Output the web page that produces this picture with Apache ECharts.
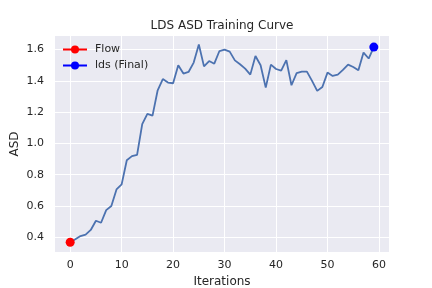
<!DOCTYPE html>
<html><head><meta charset="utf-8">
<script src="https://cdn.jsdelivr.net/npm/echarts@6/dist/echarts.min.js"></script>
<style>html,body{margin:0;padding:0;background:#fff}#c{width:432px;height:288px}</style>
</head><body><div id="c"></div>
<script>
var asd = [0.368,0.387,0.408,0.417,0.447,0.506,0.493,0.574,0.600,0.706,0.738,0.893,0.919,0.927,1.123,1.189,1.178,1.340,1.412,1.389,
1.385,1.500,1.447,1.457,1.517,1.633,1.493,1.527,1.510,1.591,1.600,1.587,1.531,1.506,1.478,1.440,1.559,1.500,1.357,1.504,
1.476,1.466,1.533,1.372,1.450,1.459,1.459,1.400,1.336,1.361,1.453,1.432,1.440,1.470,1.504,1.489,1.468,1.581,1.543,1.616];
var iterations = asd.map(function(_, i){ return i; });
var flowPoint = [0, 0.368];
var finalPoint = [59, 1.616];
var xTicks = [0,10,20,30,40,50,60];
var yTicks = [0.4,0.6,0.8,1.0,1.2,1.4,1.6];

var curve = iterations.map(function(x, i){ return [x, asd[i]]; });
var font = 'DejaVu Sans';
var chart = echarts.init(document.getElementById('c'), null, {renderer:'canvas'});
chart.setOption({
  animation:false,
  backgroundColor:'#ffffff',
  title:{text:'LDS ASD Training Curve', left:222, textAlign:'center', top:20, padding:0,
    textStyle:{fontFamily:font, fontSize:12, fontWeight:'normal', color:'#262626'}},
  legend:{data:['Flow','lds (Final)'], orient:'vertical', left:62, top:44, itemWidth:24, itemHeight:10, itemGap:5,
    padding:0,
    textStyle:{fontFamily:font, fontSize:11, color:'#262626', padding:[0,0,0,3]}},
  grid:{left:55, right:43, top:36, bottom:36, show:true, backgroundColor:'#EAEAF2', borderWidth:0,
    containLabel:false, outerBoundsMode:'none'},
  xAxis:{type:'value', min:-2.95, max:61.95,
    name:'Iterations', nameLocation:'middle', nameGap:24, nameMoveOverlap:false,
    nameTextStyle:{fontFamily:font, fontSize:12, color:'#262626'},
    axisLine:{show:false}, axisTick:{show:false, customValues:xTicks},
    axisLabel:{fontFamily:font, fontSize:11, color:'#262626', margin:8, customValues:xTicks},
    splitLine:{show:true, lineStyle:{color:'#ffffff', width:1}}},
  yAxis:{type:'value', min:0.306, max:1.687,
    name:'ASD', nameLocation:'middle', nameGap:34, nameMoveOverlap:false,
    nameTextStyle:{fontFamily:font, fontSize:12, color:'#262626'},
    axisLine:{show:false}, axisTick:{show:false, customValues:yTicks},
    axisLabel:{fontFamily:font, fontSize:11, color:'#262626', margin:11, customValues:yTicks,
      formatter:function(v){ return Number(v).toFixed(1); }},
    splitLine:{show:true, lineStyle:{color:'#ffffff', width:1}}},
  series:[
    {name:'curve', type:'line', data:curve, symbol:'none', lineStyle:{color:'#4C72B0', width:1.8}, itemStyle:{color:'#4C72B0'}, z:2},
    {name:'Flow', type:'line', data:[flowPoint], symbol:'circle', symbolSize:9, itemStyle:{color:'#ff0000'}, lineStyle:{color:'#ff0000', width:2}, z:3},
    {name:'lds (Final)', type:'line', data:[finalPoint], symbol:'circle', symbolSize:9, itemStyle:{color:'#0000ff'}, lineStyle:{color:'#0000ff', width:2}, z:3}
  ]
});
</script></body></html>
